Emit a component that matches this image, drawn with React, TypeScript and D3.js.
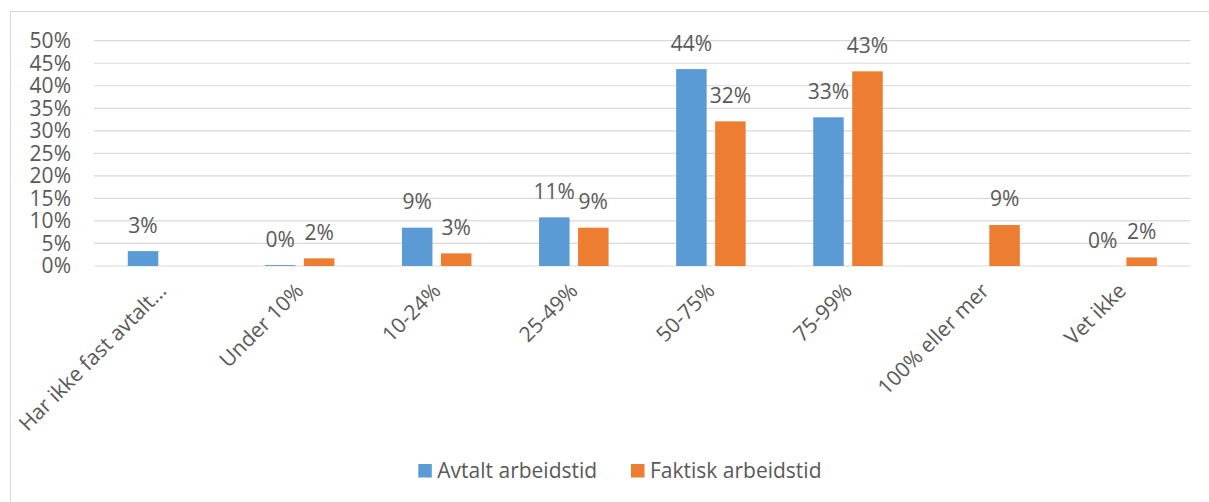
import React from "react";
import * as d3 from "d3";

const categories = [
  "Har ikke fast avtalt...",
  "Under 10%",
  "10-24%",
  "25-49%",
  "50-75%",
  "75-99%",
  "100% eller mer",
  "Vet ikke",
];
const seriesNames = ["Avtalt arbeidstid", "Faktisk arbeidstid"];
const avtalt: (number | null)[] = [3.3, 0.2, 8.5, 10.8, 43.7, 33.0, null, 0];
const faktisk: (number | null)[] = [null, 1.7, 2.8, 8.5, 32.1, 43.2, 9.1, 1.9];
const labelsAvtalt = ["3%", "0%", "9%", "11%", "44%", "33%", "", "0%"];
const labelsFaktisk = ["", "2%", "3%", "9%", "32%", "43%", "9%", "2%"];
const yTicks = [0, 5, 10, 15, 20, 25, 30, 35, 40, 45, 50];
const colors = ["#5B9BD5", "#ED7D31"];

const W = 1209;
const H = 502;
const FONT = "'Open Sans', 'Noto Sans', sans-serif";
const TXT = "#595959";

export default function App() {
  const left = 94;
  const right = 1190.7;
  const top = 40.7;
  const bottom = 266;

  const x = d3.scaleBand<string>().domain(categories).range([left, right]).paddingInner(0).paddingOuter(0);
  const y = d3.scaleLinear().domain([0, 50]).range([bottom, top]);
  const bw = x.bandwidth();
  const xs = d3
    .scaleBand<string>()
    .domain(seriesNames)
    .range([bw / 2 - 34.75, bw / 2 + 34.75])
    .paddingInner(0.218)
    .paddingOuter(0);
  const barW = xs.bandwidth();

  const data = [avtalt, faktisk];
  const labels = [labelsAvtalt, labelsFaktisk];

  return (
    <div style={{ position: "absolute", left: 0, top: 0 }}>
      <svg width={W} height={H} style={{ display: "block", background: "#fff" }}>
        <rect x={10.5} y={11.5} width={1210} height={520} fill="#fff" stroke="#d9d9d9" strokeWidth={1} />
        {yTicks.map((t) => (
          <g key={t}>
            <line x1={left} x2={right} y1={y(t)} y2={y(t)} stroke="#d9d9d9" strokeWidth={1.2} />
            <text
              x={71}
              y={y(t)}
              dy="0.35em"
              textAnchor="end"
              fontFamily={FONT}
              fontSize={21}
              fill={TXT}
            >
              {t}%
            </text>
          </g>
        ))}
        {seriesNames.map((s, si) =>
          categories.map((c, ci) => {
            const v = data[si][ci];
            if (v === null) return null;
            const bx = (x(c) as number) + (xs(s) as number);
            return (
              <g key={s + c}>
                {v > 0 && (
                  <rect x={bx} y={y(v)} width={barW} height={y(0) - y(v)} fill={colors[si]} />
                )}
                {labels[si][ci] && (
                  <text
                    x={bx + barW / 2}
                    y={y(v) - 18.5}
                    textAnchor="middle"
                    fontFamily={FONT}
                    fontSize={21}
                    fill={TXT}
                  >
                    {labels[si][ci]}
                  </text>
                )}
              </g>
            );
          })
        )}
        {categories.map((c) => {
          const cx = (x(c) as number) + bw / 2;
          return (
            <text
              key={c}
              transform={`translate(${cx},287) rotate(-45)`}
              dy="0.35em"
              textAnchor="end"
              fontFamily={FONT}
              fontSize={21}
              fill={TXT}
            >
              {c}
            </text>
          );
        })}
        {seriesNames.map((s, si) => {
          const lx = si === 0 ? 418.3 : 631;
          return (
            <g key={s}>
              <rect x={lx} y={464} width={13.5} height={13.5} fill={colors[si]} />
              <text x={lx + 19} y={477.7} fontFamily={FONT} fontSize={21} fill={TXT}>
                {s}
              </text>
            </g>
          );
        })}
      </svg>
    </div>
  );
}
